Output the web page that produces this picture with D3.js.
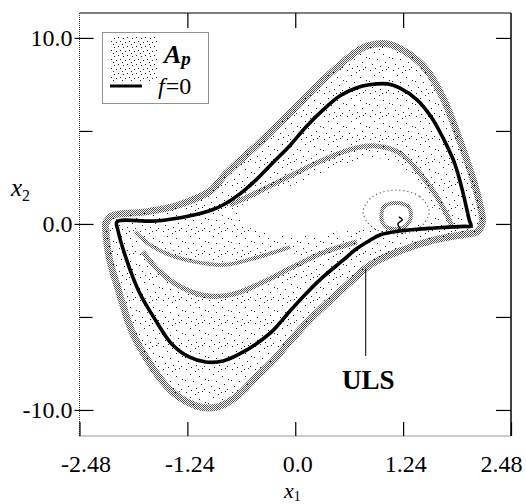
<!DOCTYPE html>
<html lang="en">
<head>
<meta charset="utf-8">
<title>Phase portrait x1-x2</title>
<script src="https://cdn.jsdelivr.net/npm/d3@7"></script>
<style>
  body { margin: 0; background: #fff; }
  text { font-family: "Liberation Serif", "Times New Roman", serif; fill: #000; }
</style>
</head>
<body>
<svg id="chart" width="526" height="504"></svg>
<script>
// axis ticks
var xTicks = [-2.48, -1.24, 0, 1.24, 2.48];
var xTickLabels = ["-2.48", "-1.24", "0.0", "1.24", "2.48"];
var xTicksTop = [-1.24, 0, 1.24];
var yTicks = [-10, 0, 10];
var yTickLabels = ["-10.0", "0.0", "10.0"];
var yTicksMinor = [-5, 5];

// f=0 limit cycle
var cycleF0 = [
  [-2.05, 0.11], [-1.60, 0.16], [-1.22, 0.43], [-0.96, 0.75], [-0.80, 1.10],
  [-0.64, 1.60], [-0.45, 2.37], [-0.26, 3.28], [-0.06, 4.22], [0.12, 5.20],
  [0.32, 6.13], [0.51, 6.88], [0.70, 7.31], [0.85, 7.48], [1.06, 7.53],
  [1.20, 7.31], [1.40, 6.67], [1.57, 5.70], [1.71, 4.52], [1.83, 3.28],
  [1.92, 1.83], [2.00, 0.22], [2.02, -0.12], [1.95, -0.13], [1.60, -0.22],
  [1.20, -0.38], [0.98, -0.58], [0.85, -0.90], [0.70, -1.35], [0.55, -1.95],
  [0.32, -2.85], [0.12, -3.76], [-0.06, -4.68], [-0.26, -5.75], [-0.45, -6.45],
  [-0.64, -6.99], [-0.83, -7.37], [-1.03, -7.42], [-1.22, -7.15], [-1.42, -6.45],
  [-1.60, -5.22], [-1.80, -3.60], [-1.95, -1.77], [-2.04, -0.30]
];

// A_p : outer envelope of the attractor
var apOuter = [
  [-2.18, 0.0], [-2.11, 0.43], [-1.72, 0.65], [-1.34, 1.02], [-0.96, 1.83],
  [-0.83, 2.53], [-0.64, 3.39], [-0.45, 4.19], [-0.06, 5.97], [0.32, 7.74],
  [0.70, 9.25], [0.83, 9.57], [1.06, 9.68], [1.29, 9.19], [1.51, 8.28],
  [1.71, 6.67], [1.86, 4.89], [2.01, 2.90], [2.11, 1.29], [2.15, 0.11],
  [2.09, -0.43], [1.97, -0.54], [1.60, -0.86], [1.20, -1.45], [0.94, -1.99],
  [0.83, -2.31], [0.52, -3.60], [0.32, -4.46], [0.12, -5.38], [-0.06, -6.29],
  [-0.26, -7.37], [-0.45, -8.23], [-0.64, -9.14], [-0.83, -9.73], [-0.98, -9.89],
  [-1.14, -9.78], [-1.34, -9.30], [-1.53, -8.44], [-1.72, -7.15], [-1.88, -5.75],
  [-2.03, -3.60], [-2.14, -1.77], [-2.18, -0.22]
];

// A_p : inner dense arc (upper right)
var apInnerArc = [
  [-0.75, 1.02], [-0.45, 1.67], [-0.06, 2.58], [0.32, 3.44], [0.70, 4.09],
  [0.93, 4.19], [1.20, 3.82], [1.40, 2.90], [1.60, 1.67], [1.75, 0.43], [1.80, -0.11]
];

// A_p : empty region around the origin
var apHole = [
  [-0.58, 1.13], [-0.06, 2.04], [0.40, 2.90], [0.74, 3.44], [0.95, 3.55],
  [1.20, 3.17], [1.41, 2.26], [1.57, 1.02], [1.55, 0.32], [1.32, 0.0],
  [0.97, -0.22], [0.63, -0.35], [0.28, -0.50], [0.0, -0.55], [-0.35, -0.40],
  [-0.54, -0.05], [-0.64, 0.65]
];

// A_p : the two edges of the empty channel (lower left)
var apChannelTop = [
  [-1.84, -0.43], [-1.67, -1.13], [-1.44, -1.67], [-1.15, -2.04], [-0.81, -2.20],
  [-0.46, -1.83], [-0.06, -1.25]
];
var apChannelBottom = [
  [-1.75, -1.50], [-1.56, -2.55], [-1.33, -3.35], [-1.04, -3.85], [-0.73, -3.80],
  [-0.38, -3.15], [0.00, -2.25], [0.34, -1.51], [0.71, -0.97]
];

// A_p : rings round the unstable focus
var apEyeRing = [
  [1.16, 1.13], [1.29, 0.97], [1.33, 0.43], [1.27, -0.11], [1.16, -0.27],
  [1.03, -0.11], [0.99, 0.43], [1.03, 0.97]
];
var apEyeOuter = [
  [1.16, 1.82], [1.43, 1.47], [1.54, 0.64], [1.43, -0.19], [1.16, -0.54],
  [0.89, -0.19], [0.78, 0.64], [0.89, 1.47]
];
var eyeCurl = [[1.19, 0.38], [1.23, 0.22], [1.18, 0.0], [1.21, -0.27]];

var svg = d3.select("#chart");
var L = 79.5, R = 511, T = 13, B = 436;

var x = d3.scaleLinear().domain([-2.48, 2.48]).range([L, R]);
var y = d3.scaleLinear().domain([-11.40, 11.34]).range([B, T]);

// patterns for the dotted attractor
var defs = svg.append("defs");
var dense = defs.append("pattern").attr("id", "dense")
  .attr("patternUnits", "userSpaceOnUse").attr("width", 2).attr("height", 2);
dense.append("rect").attr("x", 0).attr("y", 0).attr("width", 1).attr("height", 1).attr("fill", "#555");
dense.append("rect").attr("x", 1).attr("y", 1).attr("width", 1).attr("height", 1).attr("fill", "#555");

function dotPattern(id, size, dots) {
  var p = defs.append("pattern").attr("id", id)
    .attr("patternUnits", "userSpaceOnUse").attr("width", size).attr("height", size);
  dots.forEach(function(d) {
    p.append("rect").attr("x", d[0]).attr("y", d[1]).attr("width", 1).attr("height", 1).attr("fill", "#222");
  });
}
dotPattern("sparse", 23, [[2, 1], [11, 3], [18, 0], [6, 6], [15, 8], [21, 11], [1, 12],
  [9, 13], [17, 16], [4, 18], [12, 20], [20, 21], [7, 22], [14, 1]]);
dotPattern("legendDots", 9, [[1, 1], [6, 2], [3, 5], [8, 6], [5, 8]]);

defs.append("clipPath").attr("id", "clip")
  .append("rect").attr("x", L).attr("y", T).attr("width", R - L).attr("height", B - T);

var loopLine = d3.line().x(function(d) { return x(d[0]); }).y(function(d) { return y(d[1]); })
  .curve(d3.curveCatmullRomClosed.alpha(0.5));
var pathLine = d3.line().x(function(d) { return x(d[0]); }).y(function(d) { return y(d[1]); })
  .curve(d3.curveCatmullRom.alpha(0.5));

var plot = svg.append("g").attr("clip-path", "url(#clip)");

// sparse cloud with its holes
var channelHole = apChannelTop.concat(apChannelBottom.slice(0, 7).reverse());
plot.append("path")
  .attr("d", loopLine(apOuter) + loopLine(apHole) + loopLine(channelHole))
  .attr("fill", "url(#sparse)")
  .attr("fill-rule", "evenodd");

// dense bands
plot.append("path").attr("d", loopLine(apOuter))
  .attr("fill", "none").attr("stroke", "url(#dense)").attr("stroke-width", 7);
plot.append("path").attr("d", pathLine(apInnerArc))
  .attr("fill", "none").attr("stroke", "url(#dense)").attr("stroke-width", 5);
plot.append("path").attr("d", pathLine(apChannelTop))
  .attr("fill", "none").attr("stroke", "url(#dense)").attr("stroke-width", 4);
plot.append("path").attr("d", pathLine(apChannelBottom))
  .attr("fill", "none").attr("stroke", "url(#dense)").attr("stroke-width", 5);
plot.append("path").attr("d", loopLine(apEyeRing))
  .attr("fill", "none").attr("stroke", "url(#dense)").attr("stroke-width", 4);
plot.append("path").attr("d", loopLine(apEyeOuter))
  .attr("fill", "none").attr("stroke", "#444").attr("stroke-width", 1.2)
  .attr("stroke-dasharray", "1,3");

// f=0 cycle
plot.append("path").attr("d", loopLine(cycleF0))
  .attr("fill", "none").attr("stroke", "#000").attr("stroke-width", 3.6)
  .attr("stroke-linejoin", "round");
plot.append("path").attr("d", pathLine(eyeCurl))
  .attr("fill", "none").attr("stroke", "#000").attr("stroke-width", 1.5);

// frame
svg.append("line").attr("x1", L).attr("x2", R).attr("y1", T).attr("y2", T)
  .attr("stroke", "#000").attr("stroke-width", 1.2);
svg.append("line").attr("x1", R).attr("x2", R).attr("y1", T).attr("y2", B)
  .attr("stroke", "#000").attr("stroke-width", 1.5);
svg.append("line").attr("x1", L).attr("x2", L).attr("y1", T).attr("y2", B)
  .attr("stroke", "#333").attr("stroke-dasharray", "1,1");
svg.append("line").attr("x1", L).attr("x2", R).attr("y1", B).attr("y2", B)
  .attr("stroke", "#333").attr("stroke-dasharray", "1,1");

// axes
function styleAxis(g) {
  g.attr("font-family", null);
  g.select(".domain").remove();
  g.selectAll(".tick line").attr("stroke", "#000").attr("stroke-width", 1.2);
  g.selectAll("text").attr("font-size", 24);
}

var bottomAxis = svg.append("g").attr("transform", "translate(0," + B + ")")
  .call(d3.axisBottom(x).tickValues(xTicks).tickSize(-14).tickPadding(19)
    .tickFormat(function(d, i) { return xTickLabels[i]; }))
  .call(styleAxis);
bottomAxis.selectAll(".tick text").attr("dx", function(d, i) {
  return i === 0 ? 6 : (i === xTicks.length - 1 ? -10 : 2);
});

svg.append("g").attr("transform", "translate(0," + T + ")")
  .call(d3.axisTop(x).tickValues(xTicksTop).tickSize(-15).tickFormat(""))
  .call(styleAxis);

var leftAxis = svg.append("g").attr("transform", "translate(" + L + ",0)")
  .call(d3.axisLeft(y).tickValues(yTicks).tickSize(-14).tickPadding(7)
    .tickFormat(function(d, i) { return yTickLabels[i]; }))
  .call(styleAxis);
leftAxis.selectAll(".tick").append("line").attr("x1", -5).attr("x2", 0)
  .attr("stroke", "#000").attr("stroke-width", 1.2);

svg.append("g").attr("transform", "translate(" + L + ",0)")
  .call(d3.axisLeft(y).tickValues(yTicksMinor).tickSize(-13).tickFormat(""))
  .call(styleAxis);

svg.append("g").attr("transform", "translate(" + R + ",0)")
  .call(d3.axisRight(y).tickValues(yTicks.concat(yTicksMinor)).tickSize(-15).tickFormat(""))
  .call(styleAxis);

// axis titles
var xt = svg.append("text").attr("x", 284).attr("y", 498).attr("font-size", 22);
xt.append("tspan").attr("font-style", "italic").text("x");
xt.append("tspan").attr("font-size", 14).attr("dy", 3).text("1");

var yt = svg.append("text").attr("x", 11).attr("y", 196).attr("font-size", 25);
yt.append("tspan").attr("font-style", "italic").text("x");
yt.append("tspan").attr("font-size", 16).attr("dy", 5).text("2");

// ULS annotation
svg.append("line").attr("x1", x(0.81)).attr("x2", x(0.81))
  .attr("y1", y(-2.4)).attr("y2", y(-7.1))
  .attr("stroke", "#000").attr("stroke-width", 1);
svg.append("text").attr("x", x(0.84)).attr("y", y(-8.9))
  .attr("text-anchor", "middle").attr("font-size", 27).attr("font-weight", "bold")
  .text("ULS");

// legend
var lg = svg.append("g");
lg.append("rect").attr("x", 102.5).attr("y", 32.5).attr("width", 106).attr("height", 71)
  .attr("fill", "#fff").attr("stroke", "#222").attr("stroke-dasharray", "1,1");
lg.append("rect").attr("x", 110).attr("y", 37).attr("width", 48).attr("height", 45)
  .attr("fill", "url(#legendDots)");
lg.append("line").attr("x1", 110).attr("x2", 142).attr("y1", 86).attr("y2", 86)
  .attr("stroke", "#000").attr("stroke-width", 3);
var ap = lg.append("text").attr("x", 164).attr("y", 63).attr("font-size", 26)
  .attr("font-weight", "bold").attr("font-style", "italic");
ap.append("tspan").text("A");
ap.append("tspan").attr("font-size", 19).attr("dy", 2).text("p");
var f0 = lg.append("text").attr("x", 158).attr("y", 94).attr("font-size", 24);
f0.append("tspan").attr("font-style", "italic").text("f");
f0.append("tspan").attr("dx", 1).text("=0");
</script>
</body>
</html>
